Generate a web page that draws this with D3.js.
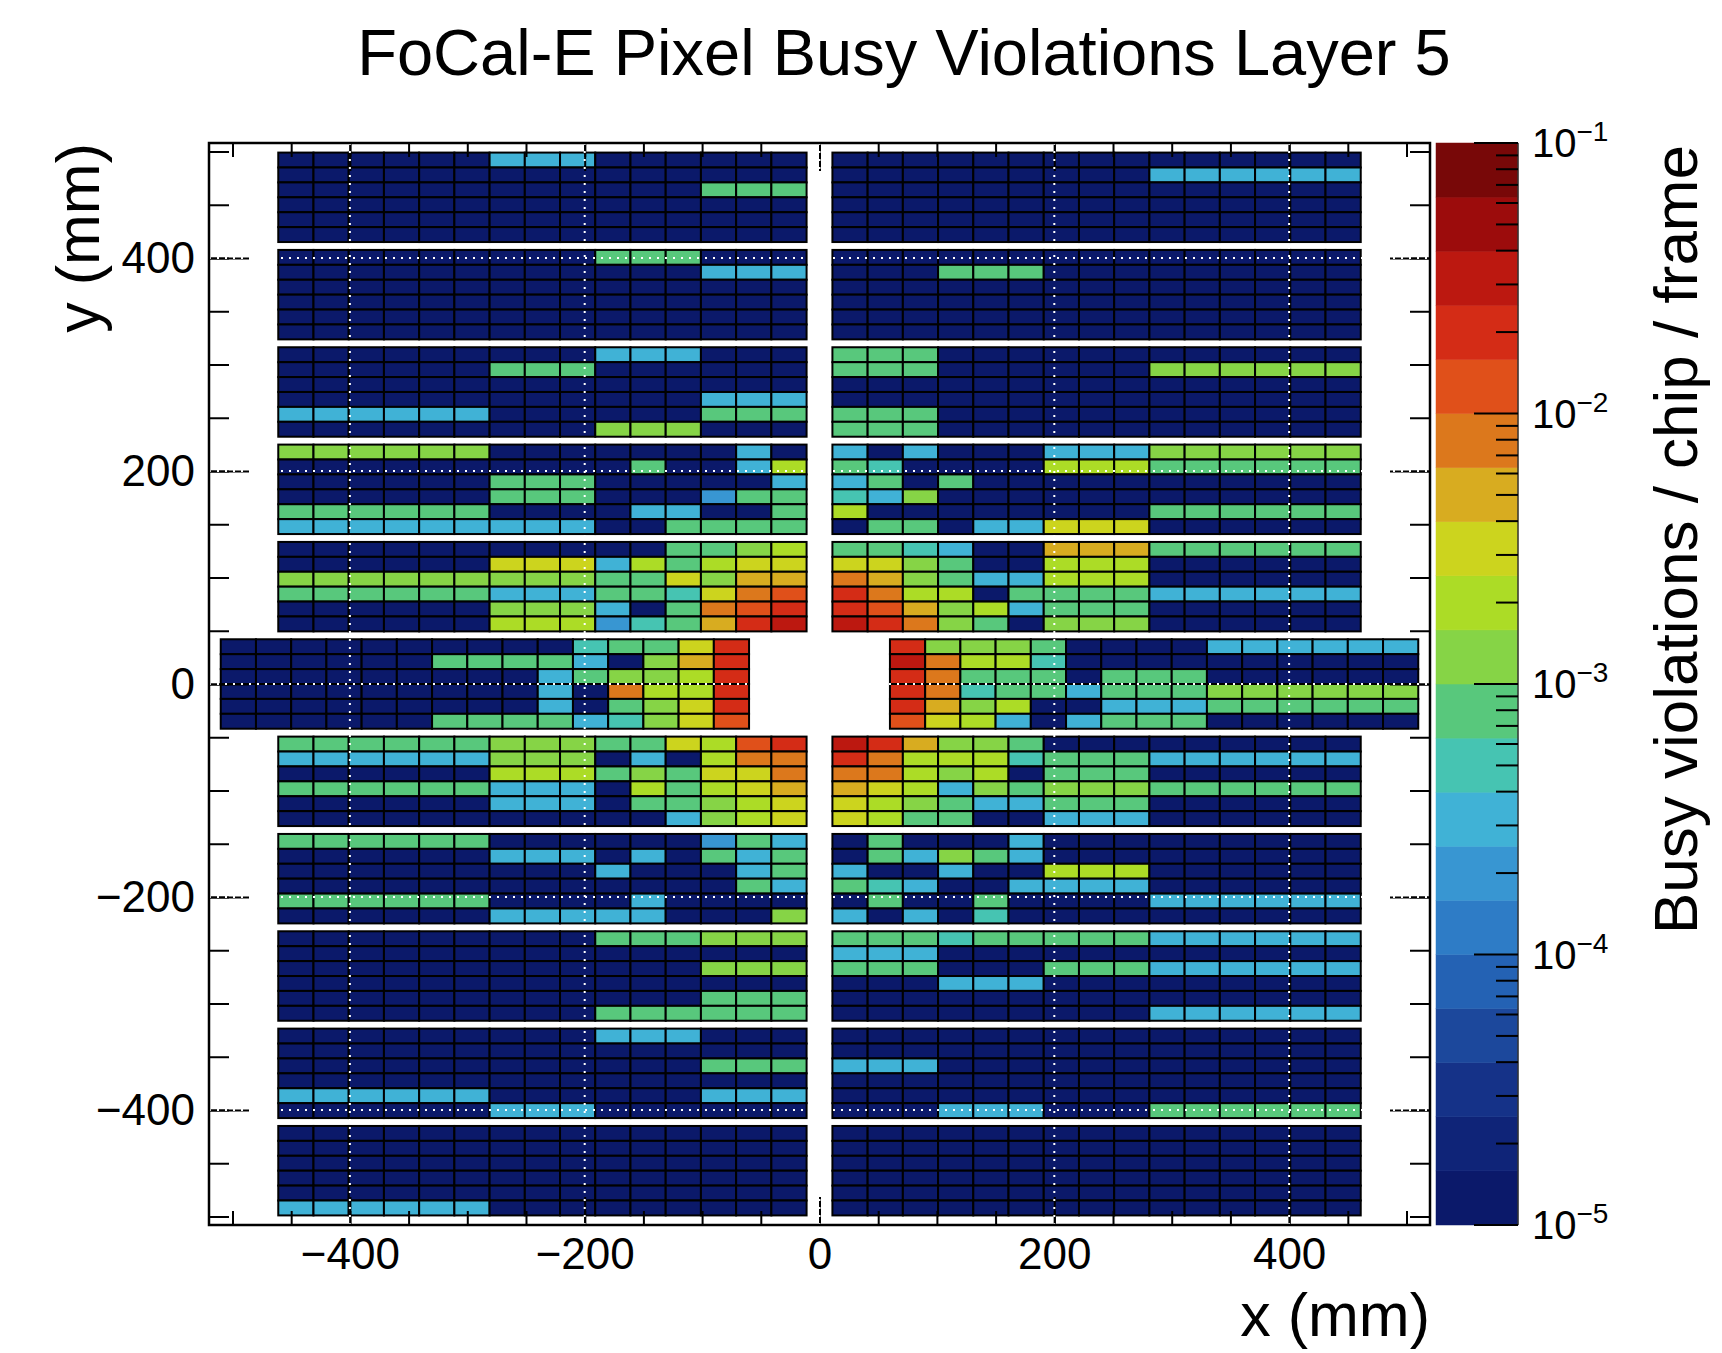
<!DOCTYPE html>
<html>
<head>
<meta charset="utf-8">
<script src="https://cdn.jsdelivr.net/npm/d3@7"></script>
<style>
  body { margin: 0; background: #fff; }
  svg { display: block; }
  text { font-family: "Liberation Sans", Arial, Helvetica, sans-serif; fill: #000; }
</style>
</head>
<body>
<div class="container"></div>
<script>
// ===== DATA =====
// representative value of each colour band (busy violations / chip / frame)
var bandValues = [1.3e-5, 2e-5, 3.2e-5, 5e-5, 8e-5,
                  1.3e-4, 2e-4, 3.2e-4, 5e-4, 8e-4,
                  1.3e-3, 2e-3, 3.2e-3, 5e-3, 8e-3,
                  1.3e-2, 2e-2, 3.2e-2, 5e-2, 8e-2];
// colour of each band, bottom to top of the colour bar
var palette = ["#0b196a", "#0f2478", "#153288", "#1c489c", "#2462b4",
               "#2e7cc6", "#3896d2", "#40b2d6", "#46c4b2", "#58c87c",
               "#86d446", "#acdc26", "#ccd41e", "#d8ac20", "#dc781c",
               "#e0501a", "#d42c16", "#bc1810", "#9c0c0c", "#780808"];
// one char per chip = band index into bandValues ("0".."9","A".."J")
// 11 staves from top (y>0) to bottom, 6 chip rows each, 15 chips left->right
var leftRows = [
  ["000000777000000", "000000000000000", "000000000000999", "000000000000000", "000000000000000", "000000000000000"],
  ["000000000999000", "000000000000777", "000000000000000", "000000000000000", "000000000000000", "000000000000000"],
  ["000000000777000", "000000999000000", "000000000000000", "000000000000777", "777777000000999", "000000000AAA000"],
  ["AAAAAA000000070", "00000000009007B", "000000999000007", "000000999000699", "999999000077009", "777777777009999"],
  ["0000000000099AB", "000000CCC7B9BCC", "AAAAAAAAA99CADD", "999999777998CEF", "000000AAA709EFG", "000000BBB689DGH"],
  ["0000000000899CG", "000000999970ADG", "00000000079AABG", "00000000070EBBG", "000000000709ACG", "000000999978ACF"],
  ["999999AAA99CBFG", "777777AAA070BEE", "000000BBB9A9CCE", "9999997770B9BCD", "000000777099ABC", "000000000007ABC"],
  ["999999000000697", "000000777070979", "000000000700079", "000000000000097", "999999000070000", "00000077777000A"],
  ["000000000999AAA", "000000000000000", "000000000000AAA", "000000000000000", "000000000000999", "000000000999999"],
  ["000000000777000", "000000000000000", "000000000000999", "000000000000000", "777777000000777", "000000777000000"],
  ["000000000000000", "000000000000000", "000000000000000", "000000000000000", "000000000000000", "777777000000000"]
];
var rightRows = [
  ["000000000000000", "000000000777777", "000000000000000", "000000000000000", "000000000000000", "000000000000000"],
  ["000000000000000", "000999000000000", "000000000000000", "000000000000000", "000000000000000", "000000000000000"],
  ["999000000000000", "999000000AAAAAA", "000000000000000", "000000000000000", "999000000000000", "999000000000000"],
  ["707000777AAAAAA", "980000BBB999999", "790900000000000", "87A000000000000", "B00000000999999", "099077CCC000000"],
  ["998700DDD999999", "CCA900BBB000000", "EDA977BBB000000", "GEBB09999777777", "GFDAB7999000000", "HGEA90AAA000000"],
  ["GAAA90000777777", "HEBB80000000000", "GE9990999000000", "GE8997999AAAAAA", "GDAB00777999999", "FCB707999000000"],
  ["HGDAA9000000000", "GEBBB8999777777", "EEBAB0999000000", "DCB7A9AAA999999", "CBA977999000000", "CB9900777000000"],
  ["090007000000000", "097A97000000000", "700700BBB000000", "987007777000000", "090090000777777", "707080000000000"],
  ["999899999777777", "777000000000000", "999000999777777", "000777000000000", "000000000000000", "000000000777777"],
  ["000000000000000", "000000000000000", "777000000000000", "000000000000000", "000000000000000", "000777000999999"],
  ["000000000000000", "000000000000000", "000000000000000", "000000000000000", "000000000000000", "000000000000000"]
];
var xTicks = [-400, -200, 0, 200, 400];
var yTicks = [-400, -200, 0, 200, 400];
var zDecades = [1e-5, 1e-4, 1e-3, 1e-2, 1e-1];

buildChart();

function buildChart() {

  /* ===== SET UP CHART ===== */
  var w = 1722, h = 1353;
  var frame = {left: 209, right: 1430, top: 143, bottom: 1225};
  var bar = {left: 1436, right: 1518};
  var chipW = 30, chipH = 14, pitch = 91.4;   // mm
  var codes = "0123456789ABCDEFGHIJ";

  var svg = d3.select('.container').append('svg')
    .attr('width', w).attr('height', h);

  var x = d3.scaleLinear().domain([-520, 520]).range([frame.left, frame.right]);
  var y = d3.scaleLinear().domain([-508, 508]).range([frame.bottom, frame.top]);
  var z = d3.scaleLog().domain([1e-5, 1e-1]).range([frame.bottom, frame.top]);
  var band = d3.scaleLog().domain([1e-5, 1e-1]).range([0, palette.length]);

  function setColor(v) {
    var b = Math.floor(band(v));
    return palette[Math.max(0, Math.min(palette.length - 1, b))];
  }

  /* --- chips --- */
  var cells = [];
  function addHalf(rows, side) {
    rows.forEach(function(block, k) {
      var inner = (k === 5) ? 60 : 11;
      var outer = (k === 5) ? 510 : 461;
      var top = (5 - k) * pitch + 3 * chipH;
      block.forEach(function(row, r) {
        row.split('').forEach(function(c, i) {
          var x0 = side < 0 ? -outer + i * chipW : inner + i * chipW;
          cells.push({x0: x0, y0: top - r * chipH, v: bandValues[codes.indexOf(c)]});
        });
      });
    });
  }
  addHalf(leftRows, -1);
  addHalf(rightRows, 1);

  svg.append('g').selectAll('rect')
    .data(cells)
    .enter()
    .append('rect')
    .attr('x', function(d) { return x(d.x0); })
    .attr('y', function(d) { return y(d.y0); })
    .attr('width', function(d) { return x(d.x0 + chipW) - x(d.x0); })
    .attr('height', function(d) { return y(d.y0 - chipH) - y(d.y0); })
    .attr('fill', function(d) { return setColor(d.v); })
    .attr('stroke', '#000')
    .attr('stroke-width', 2);

  /* --- frame ticks (inside) --- */
  var minorX = d3.range(-500, 501, 50), minorY = d3.range(-500, 501, 50);
  function tickGroup(axis, tx, ty) {
    var g = svg.append('g').attr('transform', 'translate(' + tx + ',' + ty + ')').call(axis);
    g.select('.domain').remove();
    g.selectAll('line').attr('stroke', '#000').attr('stroke-width', 2);
    return g;
  }
  tickGroup(d3.axisRight(y).tickValues(minorY).tickSize(20).tickFormat(''), frame.left, 0);
  tickGroup(d3.axisRight(y).tickValues(yTicks).tickSize(40).tickFormat(''), frame.left, 0);
  tickGroup(d3.axisLeft(y).tickValues(minorY).tickSize(20).tickFormat(''), frame.right, 0);
  tickGroup(d3.axisLeft(y).tickValues(yTicks).tickSize(40).tickFormat(''), frame.right, 0);
  tickGroup(d3.axisTop(x).tickValues(minorX).tickSize(14).tickFormat(''), 0, frame.bottom);
  tickGroup(d3.axisTop(x).tickValues(xTicks).tickSize(28).tickFormat(''), 0, frame.bottom);
  tickGroup(d3.axisBottom(x).tickValues(minorX).tickSize(14).tickFormat(''), 0, frame.top);
  tickGroup(d3.axisBottom(x).tickValues(xTicks).tickSize(28).tickFormat(''), 0, frame.top);

  /* --- white dotted grid --- */
  var grid = svg.append('g')
    .attr('stroke', '#fff')
    .attr('stroke-width', 2)
    .attr('stroke-dasharray', '2,6');
  grid.selectAll('.gx').data(xTicks).enter().append('line')
    .attr('x1', function(d) { return x(d); }).attr('x2', function(d) { return x(d); })
    .attr('y1', frame.top).attr('y2', frame.bottom);
  grid.selectAll('.gy').data(yTicks).enter().append('line')
    .attr('y1', function(d) { return y(d); }).attr('y2', function(d) { return y(d); })
    .attr('x1', frame.left).attr('x2', frame.right);

  svg.append('rect')
    .attr('x', frame.left).attr('y', frame.top)
    .attr('width', frame.right - frame.left).attr('height', frame.bottom - frame.top)
    .attr('fill', 'none').attr('stroke', '#000').attr('stroke-width', 2.5);

  /* --- tick labels --- */
  var yLab = svg.append('g').attr('transform', 'translate(' + frame.left + ',0)')
    .call(d3.axisLeft(y).tickValues(yTicks).tickSize(0).tickPadding(14));
  yLab.select('.domain').remove();
  yLab.selectAll('text').style('font-size', '44px').attr('fill', '#000')
    .style('font-family', '"Liberation Sans", Arial, sans-serif');

  var xLab = svg.append('g').attr('transform', 'translate(0,' + frame.bottom + ')')
    .call(d3.axisBottom(x).tickValues(xTicks).tickSize(0).tickPadding(13));
  xLab.select('.domain').remove();
  xLab.selectAll('text').style('font-size', '44px').attr('fill', '#000')
    .style('font-family', '"Liberation Sans", Arial, sans-serif');

  /* ===== COLOUR BAR ===== */
  svg.append('g').selectAll('rect')
    .data(bandValues)
    .enter()
    .append('rect')
    .attr('x', bar.left)
    .attr('width', bar.right - bar.left)
    .attr('y', function(d, i) { return z(band.invert(i + 1)); })
    .attr('height', function(d, i) { return z(band.invert(i)) - z(band.invert(i + 1)); })
    .attr('fill', function(d) { return setColor(d); })
    .attr('stroke', function(d) { return setColor(d); })
    .attr('stroke-width', 0.5);

  svg.append('line')
    .attr('x1', bar.right).attr('x2', bar.right)
    .attr('y1', frame.top).attr('y2', frame.bottom)
    .attr('stroke', '#333').attr('stroke-width', 1.5);

  var zTickVals = z.ticks();
  svg.append('g').selectAll('line')
    .data(zTickVals)
    .enter()
    .append('line')
    .attr('x1', bar.right)
    .attr('x2', function(d) {
      var major = Math.abs(Math.log10(d) - Math.round(Math.log10(d))) < 1e-6;
      return bar.right - (major ? 44 : 22);
    })
    .attr('y1', function(d) { return z(d); })
    .attr('y2', function(d) { return z(d); })
    .attr('stroke', '#000').attr('stroke-width', 2);

  var zLab = svg.append('g').selectAll('text')
    .data(zDecades)
    .enter()
    .append('text')
    .attr('x', 1532)
    .attr('y', function(d) { return z(d) + 14; })
    .style('font-size', '40px');
  zLab.append('tspan').text('10');
  zLab.append('tspan')
    .attr('dy', -16)
    .style('font-size', '28px')
    .text(function(d) { return '\u2212' + Math.round(-Math.log10(d)); });

  /* ===== LABELS ===== */
  svg.append('text')
    .attr('x', 904).attr('y', 75)
    .style('text-anchor', 'middle')
    .style('font-size', '65px')
    .text('FoCal-E Pixel Busy Violations Layer 5');

  svg.append('text')
    .attr('x', frame.right).attr('y', 1336)
    .style('text-anchor', 'end')
    .style('font-size', '61px')
    .text('x (mm)');

  svg.append('text')
    .attr('transform', 'translate(99,' + frame.top + ') rotate(-90)')
    .style('text-anchor', 'end')
    .style('font-size', '61px')
    .text('y (mm)');

  svg.append('text')
    .attr('transform', 'translate(1697,' + (frame.top + 2) + ') rotate(-90)')
    .style('text-anchor', 'end')
    .style('font-size', '62px')
    .text('Busy violations / chip / frame');
}
</script>
</body>
</html>
